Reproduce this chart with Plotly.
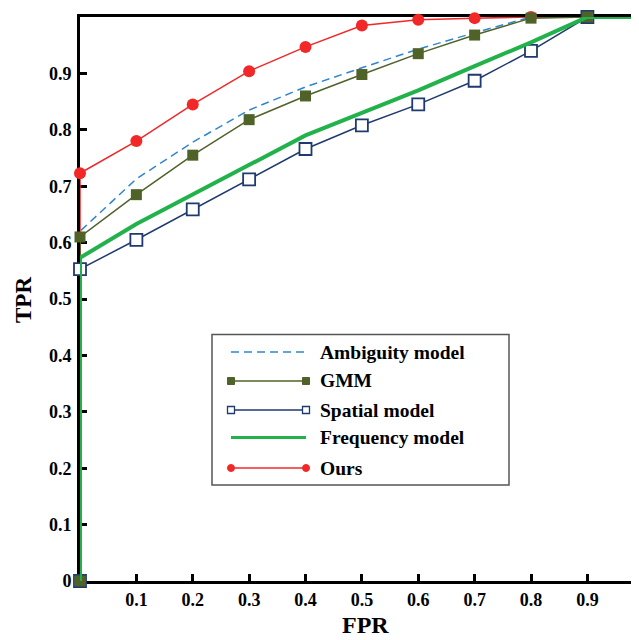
import plotly.graph_objects as go

# ---- data ----
fpr = [0, 0, 0.1, 0.2, 0.3, 0.4, 0.5, 0.6, 0.7, 0.8, 0.9, 1.0]
ambiguity = [0, 0.620, 0.713, 0.778, 0.835, 0.876, 0.910, 0.943, 0.972, 1.0, 1.0, 1.0]
gmm = [0, 0.610, 0.685, 0.755, 0.818, 0.860, 0.898, 0.935, 0.968, 0.998, 1.0, 1.0]
spatial_fpr = [0, 0, 0.1, 0.2, 0.3, 0.4, 0.5, 0.6, 0.7, 0.8, 0.9]
spatial = [0, 0.553, 0.605, 0.659, 0.712, 0.766, 0.808, 0.845, 0.887, 0.940, 1.0]
frequency = [0, 0.573, 0.633, 0.686, 0.738, 0.790, 0.830, 0.870, 0.913, 0.955, 1.0, 1.0]
ours = [0, 0.723, 0.780, 0.845, 0.904, 0.947, 0.985, 0.995, 0.998, 1.0, 1.0, 1.0]

x_ticks = [0.1, 0.2, 0.3, 0.4, 0.5, 0.6, 0.7, 0.8, 0.9]
x_ticktext = ["0.1", "0.2", "0.3", "0.4", "0.5", "0.6", "0.7", "0.8", "0.9"]
y_ticks = [0, 0.1, 0.2, 0.3, 0.4, 0.5, 0.6, 0.7, 0.8, 0.9, 1.0]
y_ticktext = ["0", "0.1", "0.2", "0.3", "0.4", "0.5", "0.6", "0.7", "0.8", "0.9", "1"]

names = ["Ambiguity model", "GMM", "Spatial model", "Frequency model", "Ours"]

C_AMB = "#2E86D1"
C_GMM = "#4F6228"
C_SPA = "#1F3A6E"
C_FRE = "#22B24C"
C_OUR = "#F22828"

FONT = "Times New Roman, Liberation Serif, serif"

OFF = 8  # page body margin
W, H = 631, 632
L, R, T, B = 72, 0, 9, 59
PW, PH = W - L - R, H - T - B
UNIT_X = 563.75

fig = go.Figure()

fig.add_trace(go.Scatter(x=fpr, y=ambiguity, mode="lines", name=names[0],
                         line=dict(color=C_AMB, width=1.5, dash="8px,5px"),
                         cliponaxis=False, showlegend=False))
fig.add_trace(go.Scatter(x=fpr, y=ours, mode="lines+markers", name=names[4],
                         line=dict(color=C_OUR, width=1.5),
                         marker=dict(symbol="circle", size=12, color=C_OUR),
                         cliponaxis=False, showlegend=False))
fig.add_trace(go.Scatter(x=spatial_fpr, y=spatial, mode="lines+markers", name=names[2],
                         line=dict(color=C_SPA, width=1.5),
                         marker=dict(symbol="square", size=12, color="white",
                                     line=dict(color=C_SPA, width=1.8)),
                         cliponaxis=False, showlegend=False))
fig.add_trace(go.Scatter(x=fpr, y=gmm, mode="lines+markers", name=names[1],
                         line=dict(color=C_GMM, width=1.5),
                         marker=dict(symbol="square", size=11, color=C_GMM),
                         cliponaxis=False, showlegend=False))
fig.add_trace(go.Scatter(x=fpr, y=frequency, mode="lines", name=names[3],
                         line=dict(color=C_FRE, width=4),
                         cliponaxis=False, showlegend=False))


def px2x(px):
    # px given in page pixels of the reference picture
    return (px - OFF - L) / PW


def px2y(py):
    return (H - B - (py - OFF)) / PH


shapes = []
annotations = []

# legend box
shapes.append(dict(type="rect", xref="paper", yref="paper",
                   x0=px2x(212), x1=px2x(509), y0=px2y(485), y1=px2y(334.5),
                   line=dict(color="#555555", width=1.5), fillcolor="white", layer="above"))

rows = [352, 381, 410, 437.5, 468]
lx0, lx1 = 231, 306
styles = [
    dict(color=C_AMB, width=1.5, dash="8px,5px", mk=None),
    dict(color=C_GMM, width=1.5, dash="solid", mk="gmm"),
    dict(color=C_SPA, width=1.5, dash="solid", mk="spa"),
    dict(color=C_FRE, width=3, dash="solid", mk=None),
    dict(color=C_OUR, width=1.5, dash="solid", mk="our"),
]
for name, py, st in zip(names, rows, styles):
    shapes.append(dict(type="line", xref="paper", yref="paper",
                       x0=px2x(lx0), x1=px2x(lx1), y0=px2y(py), y1=px2y(py),
                       line=dict(color=st["color"], width=st["width"], dash=st["dash"]),
                       layer="above"))
    if st["mk"] is not None:
        for mx in (lx0, lx1):
            if st["mk"] == "gmm":
                shapes.append(dict(type="rect", xref="paper", yref="paper",
                                   xsizemode="pixel", ysizemode="pixel",
                                   xanchor=px2x(mx), yanchor=px2y(py),
                                   x0=-3.5, x1=3.5, y0=-3.5, y1=3.5,
                                   fillcolor=C_GMM, line=dict(color=C_GMM, width=1),
                                   layer="above"))
            elif st["mk"] == "spa":
                shapes.append(dict(type="rect", xref="paper", yref="paper",
                                   xsizemode="pixel", ysizemode="pixel",
                                   xanchor=px2x(mx), yanchor=px2y(py),
                                   x0=-3.5, x1=3.5, y0=-3.5, y1=3.5,
                                   fillcolor="white", line=dict(color=C_SPA, width=1.3),
                                   layer="above"))
            else:
                shapes.append(dict(type="circle", xref="paper", yref="paper",
                                   xsizemode="pixel", ysizemode="pixel",
                                   xanchor=px2x(mx), yanchor=px2y(py),
                                   x0=-3.5, x1=3.5, y0=-3.5, y1=3.5,
                                   fillcolor=C_OUR, line=dict(color=C_OUR, width=1),
                                   layer="above"))
    annotations.append(dict(xref="paper", yref="paper", x=px2x(318), y=px2y(py),
                            xanchor="left", yanchor="middle", showarrow=False,
                            text=name, font=dict(family=FONT, size=19.5, color="black",
                                                 weight="bold")))

# axis titles
annotations.append(dict(xref="paper", yref="paper", x=px2x(365), y=px2y(625),
                        xanchor="center", yanchor="middle", showarrow=False,
                        text="FPR", font=dict(family=FONT, size=24, color="black", weight="bold")))
annotations.append(dict(xref="paper", yref="paper", x=px2x(23), y=px2y(300),
                        xanchor="center", yanchor="middle", showarrow=False, textangle=-90,
                        text="TPR", font=dict(family=FONT, size=23, color="black", weight="bold")))
# partially visible x tick label "1" at the cut-off right edge
annotations.append(dict(xref="paper", yref="paper", x=px2x(645), y=px2y(597),
                        xanchor="center", yanchor="middle", showarrow=False,
                        text="1", font=dict(family=FONT, size=18, color="black", weight="bold")))

fig.update_layout(
    width=W, height=H,
    margin=dict(l=L, r=R, t=T, b=B, pad=0),
    paper_bgcolor="white", plot_bgcolor="white",
    showlegend=False,
    shapes=shapes, annotations=annotations,
    font=dict(family=FONT, color="black"),
)

fig.update_xaxes(
    range=[0, PW / UNIT_X],
    tickvals=x_ticks, ticktext=x_ticktext,
    ticks="inside", ticklen=7, tickwidth=2.5, tickcolor="black",
    showline=True, linecolor="black", linewidth=3, mirror=True,
    showgrid=False, zeroline=False, layer="below traces",
    tickfont=dict(family=FONT, size=18, color="black", weight="bold"),
    ticklabelstandoff=0, automargin=False,
)
fig.update_yaxes(
    range=[0, 1],
    tickvals=y_ticks, ticktext=y_ticktext,
    ticks="inside", ticklen=7, tickwidth=2.5, tickcolor="black",
    showline=True, linecolor="black", linewidth=3, mirror=False,
    showgrid=False, zeroline=False, layer="below traces",
    tickfont=dict(family=FONT, size=18, color="black", weight="bold"),
    ticklabelstandoff=2, automargin=False,
)

fig.write_html("out.html")
